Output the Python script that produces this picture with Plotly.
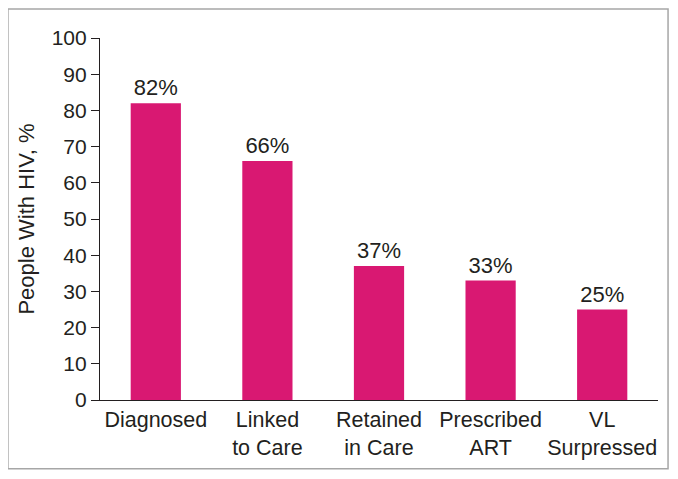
import plotly.graph_objects as go

# HIV care continuum
categories = ["Diagnosed", "Linked<br>to Care", "Retained<br>in Care", "Prescribed<br>ART", "VL<br>Surpressed"]
values = [82, 66, 37, 33, 25]
labels = ["82%", "66%", "37%", "33%", "25%"]
y_ticks = [0, 10, 20, 30, 40, 50, 60, 70, 80, 90, 100]

font_family = "Liberation Sans, Arial, sans-serif"
text_color = "#231f20"

fig = go.Figure(go.Bar(
    x=categories, y=values,
    marker=dict(color="#d91872", line=dict(width=0)),
    text=labels, textposition="outside", cliponaxis=False,
    textfont=dict(size=22, color=text_color, family=font_family),
))

# page body has an 8px margin, so the figure is sized 8px smaller
fig.update_layout(
    width=670, height=471,
    margin=dict(l=92, r=20, t=30, b=79),
    paper_bgcolor="white", plot_bgcolor="white",
    bargap=0.55, showlegend=False,
    font=dict(family=font_family, color=text_color),
    shapes=[dict(type="rect", xref="paper", yref="paper",
                 x0=-0.165, x1=1.018, y0=-0.19, y1=1.08,
                 line=dict(color="#a6a6a6", width=1.5))],
)
fig.update_xaxes(
    showline=True, linecolor="#231f20", linewidth=1.2,
    ticks="", tickfont=dict(size=21.5, color=text_color),
    showgrid=False,
)
fig.update_yaxes(
    range=[0, 100], tickvals=y_ticks, showgrid=False, zeroline=False,
    showline=True, linecolor="#231f20", linewidth=1.2,
    ticks="outside", ticklen=8, tickcolor="#231f20", tickwidth=1.2,
    tickfont=dict(size=21, color=text_color),
    title=dict(text="People With HIV, %", font=dict(size=22, color=text_color), standoff=10),
)

fig.write_html("out.html")
